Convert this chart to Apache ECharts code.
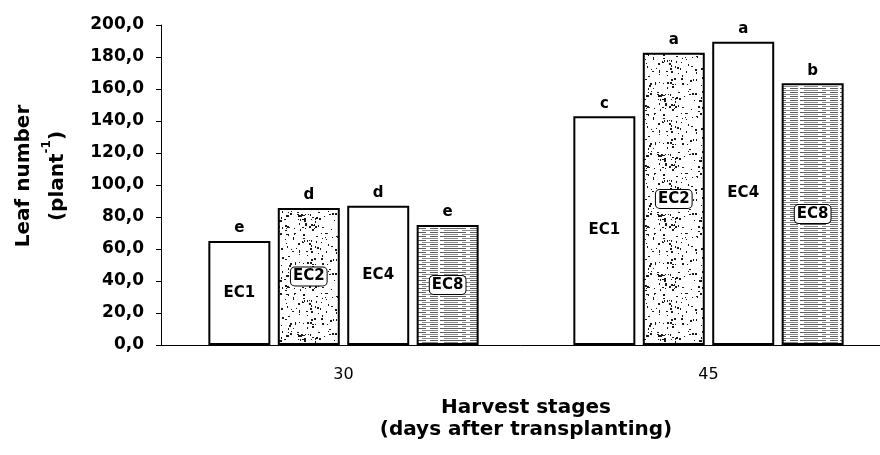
<!DOCTYPE html>
<html>
<head>
<meta charset="utf-8">
<script src="https://cdn.jsdelivr.net/npm/echarts@6/dist/echarts.min.js"></script>
<style>
  html, body { margin: 0; padding: 0; background: #fff; }
  #chart { width: 880px; height: 455px; }
</style>
</head>
<body>
<div id="chart"></div>
<script>
// harvest stages (days after transplanting)
const categories = ["30", "45"];
const treatments = ["EC1", "EC2", "EC4", "EC8"];
// leaf number per plant
const ec1 = [65.0, 143.0];
const ec2 = [85.6, 182.6];
const ec4 = [87.0, 189.5];
const ec8 = [75.0, 163.6];
// significance letters above the bars
const letters1 = ["e", "c"];
const letters2 = ["d", "a"];
const letters4 = ["d", "a"];
const letters8 = ["e", "b"];
const yTicks = [0, 200, 20]; // min, max, step

const FONT = "DejaVu Sans";

// stippled fill for EC2 (fixed seed so it is the same every time)
function speckle() {
  const c = document.createElement("canvas");
  c.width = 60; c.height = 60;
  const g = c.getContext("2d");
  g.fillStyle = "#fff";
  g.fillRect(0, 0, 60, 60);
  g.fillStyle = "#1a1a1a";
  let s = 12345;
  const next = () => (s = (s * 16807) % 2147483647);
  for (let i = 0; i < 150; i++) {
    const x = next() % 60;
    const y = next() % 60;
    const w = 1 + (next() % 2);
    const h = 1 + (next() % 2);
    g.fillRect(x, y, w, h);
  }
  return c;
}

// dashed horizontal hatch for EC8
function hatch() {
  const c = document.createElement("canvas");
  c.width = 40; c.height = 4;
  const g = c.getContext("2d");
  g.fillStyle = "#fff";
  g.fillRect(0, 0, 40, 4);
  g.fillStyle = "#5e5e5e";
  g.fillRect(0, 0, 26, 1);
  g.fillRect(30, 0, 8, 1);
  g.fillStyle = "#8a8a8a";
  g.fillRect(4, 2, 14, 1);
  g.fillRect(22, 2, 16, 1);
  return c;
}

const fills = {
  EC1: "#ffffff",
  EC2: { image: speckle(), repeat: "repeat" },
  EC4: "#ffffff",
  EC8: { image: hatch(), repeat: "repeat" }
};
const boxed = { EC2: true, EC8: true };

const values = { EC1: ec1, EC2: ec2, EC4: ec4, EC8: ec8 };
const letters = { EC1: letters1, EC2: letters2, EC4: letters4, EC8: letters8 };

const series = [];
treatments.forEach(name => {
  series.push({
    name: name,
    type: "bar",
    stack: "s" + name,
    barWidth: 62,
    barGap: "12%",
    itemStyle: {
      color: fills[name],
      borderColor: "#000",
      borderWidth: 2
    },
    label: {
      show: true,
      position: "inside",
      formatter: name,
      color: "#000",
      fontFamily: FONT,
      fontWeight: "bold",
      fontSize: 15,
      backgroundColor: boxed[name] ? "#fff" : "transparent",
      borderColor: boxed[name] ? "#000" : "transparent",
      borderWidth: boxed[name] ? 1 : 0,
      borderRadius: 4,
      padding: [2, 2, 1, 2]
    },
    emphasis: { disabled: true },
    data: values[name]
  });
  // zero-height bar on top of the stack, only carries the letter
  series.push({
    name: name + "-sig",
    type: "bar",
    stack: "s" + name,
    barWidth: 62,
    barGap: "12%",
    itemStyle: { color: "transparent", borderWidth: 0 },
    label: {
      show: true,
      position: "top",
      distance: 5,
      formatter: p => letters[name][p.dataIndex],
      color: "#000",
      fontFamily: FONT,
      fontWeight: "bold",
      fontSize: 15
    },
    emphasis: { disabled: true },
    data: categories.map(() => 0)
  });
});

const myChart = echarts.init(document.getElementById("chart"));
const option = {
  animation: false,
  backgroundColor: "#fff",
  grid: { left: 161, width: 730, top: 25, bottom: 110, outerBoundsMode: "none", containLabel: false },
  xAxis: {
    type: "category",
    data: categories,
    axisLine: { lineStyle: { color: "#000", width: 1 } },
    axisTick: { show: false },
    axisLabel: { color: "#000", fontFamily: FONT, fontSize: 16, margin: 22 },
    name: "Harvest stages\n(days after transplanting)",
    nameLocation: "middle",
    nameGap: 52,
    nameTextStyle: {
      color: "#000",
      fontFamily: FONT,
      fontWeight: "bold",
      fontSize: 20,
      lineHeight: 22
    }
  },
  yAxis: {
    type: "value",
    min: yTicks[0],
    max: yTicks[1],
    interval: yTicks[2],
    splitLine: { show: false },
    axisLine: { show: true, lineStyle: { color: "#000", width: 1 } },
    axisTick: { show: true, length: 5, lineStyle: { color: "#000" } },
    axisLabel: {
      color: "#000",
      fontFamily: FONT,
      fontWeight: "bold",
      fontSize: 17,
      margin: 17,
      formatter: v => v.toFixed(1).replace(".", ",")
    },
    name: "Leaf number\n(plant{sup|-1})",
    nameLocation: "middle",
    nameRotate: 90,
    nameGap: 86,
    nameTextStyle: {
      color: "#000",
      fontFamily: FONT,
      fontWeight: "bold",
      fontSize: 20,
      lineHeight: 34,
      padding: [0, 0, 0, 18],
      rich: {
        sup: {
          color: "#000",
          fontFamily: FONT,
          fontWeight: "bold",
          fontSize: 12,
          lineHeight: 16,
          verticalAlign: "top"
        }
      }
    }
  },
  series: series
};
myChart.setOption(option);
</script>
</body>
</html>
